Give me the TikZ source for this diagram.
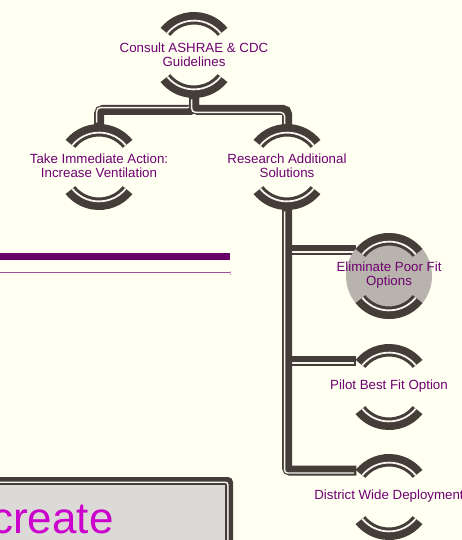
\documentclass[tikz,border=0pt]{standalone}
\usepackage{fontspec}
\setmainfont{Liberation Sans}
\usetikzlibrary{calc}
\definecolor{bg}{HTML}{FFFFF2}
\definecolor{ink}{HTML}{453E38}
\definecolor{gapc}{HTML}{F6F5EE}
\definecolor{txt}{HTML}{6E0070}
\definecolor{barc}{HTML}{660066}
\definecolor{thinbar}{HTML}{A050A0}
\definecolor{discfill}{HTML}{B8B4AD}
\definecolor{boxfill}{HTML}{DCDAD7}
\definecolor{bigtext}{HTML}{CC00CC}

% top and bottom caps of a hub: thick band, light gap, thin band
\newcommand\capring[1]{%
  \begin{scope}[shift={(#1.center)}]
    \foreach \sa/\sb in {219/321, 39/141}{
      \fill[ink] (\sa:43) arc[start angle=\sa,end angle=\sb,radius=43]
        -- (\sb:30.5) arc[start angle=\sb,end angle=\sa,radius=30.5] -- cycle;
      \fill[gapc] (\sa:35.3) arc[start angle=\sa,end angle=\sb,radius=35.3]
        -- (\sb:33.5) arc[start angle=\sb,end angle=\sa,radius=33.5] -- cycle;
    }
  \end{scope}}

\begin{document}
\begin{tikzpicture}[x=1pt,y=-1pt,
  hub/.style={circle,minimum size=84pt,inner sep=0pt,outer sep=0pt},
  lbl/.style={text=txt,font=\fontsize{13.3}{14}\selectfont,align=center,inner sep=0pt},
  wire/.style={ink,line width=10pt,rounded corners=4pt},
  wirelight/.style={gapc,line width=1.4pt,rounded corners=4pt}]
\useasboundingbox (0,0) rectangle (462,540);
\clip (0,0) rectangle (462,540);
\fill[bg] (0,0) rectangle (462,540);

% hubs
\node[hub] (consult)   at (194,55)  {};
\node[hub] (immediate) at (99,167)  {};
\node[hub] (research)  at (287,167) {};
\node[hub] (eliminate) at (389,276) {};
\node[hub] (pilot)     at (389,387) {};
\node[hub] (district)  at (389,497) {};

% connectors from the top hub
\coordinate (fork) at ($(consult.south)+(0,13)$);
\draw[wire] (consult.south) -- (fork) -| (immediate.north);
\draw[wirelight,transform canvas={xshift=-2.4pt,yshift=2.4pt}]
  (consult.south) -- (fork) -| (immediate.north);
\draw[wire] (consult.south) -- (fork) -| (research.north);
\draw[wirelight,transform canvas={xshift=-2.4pt,yshift=-2.4pt}]
  (consult.south) -- (fork) -| (research.north);

% connectors down the right column
\foreach \n in {eliminate,pilot}{
  \draw[wire,sharp corners] (research.south) |- (\n.141);
  \draw[wirelight,sharp corners,transform canvas={xshift=-2.4pt,yshift=-2.4pt}]
    (research.south) |- (\n.141);
}
\draw[wire,rounded corners=3pt] (research.south) |- (district.141);
\draw[wirelight,rounded corners=3pt,transform canvas={xshift=-2.4pt,yshift=-2.4pt}]
  (research.south) |- (district.141);

% highlighted hub
\fill[discfill] (eliminate.center) circle[radius=43];

% caps
\foreach \n in {consult,immediate,research,eliminate,pilot,district}{\capring{\n}}

% labels
\node[lbl] (consult-t)   at ([yshift=0.5pt]consult.center)   {Consult ASHRAE \& CDC\\Guidelines};
\node[lbl] (immediate-t) at ([yshift=1.5pt]immediate.center) {Take Immediate Action:\\Increase Ventilation};
\node[lbl] (research-t)  at ([yshift=1.5pt]research.center)  {Research Additional\\Solutions};
\node[lbl] (eliminate-t) at ([yshift=0.5pt]eliminate.center) {Eliminate Poor Fit\\Options};
\node[lbl] (pilot-t)     at ([yshift=0.5pt]pilot.center)     {Pilot Best Fit Option};
\node[lbl] (district-t)  at ([yshift=0.5pt]district.center)  {District Wide Deployment};

% purple rule
\fill[barc] (0,253) rectangle (230,260);
\draw[thinbar,line width=1pt] (0,272.5) -- (230,272.5);
\draw[thinbar!50,line width=1pt] (230.5,271) -- (230.5,275);

% framed panel at the bottom
\fill[ink,rounded corners=5pt] (-10,477) rectangle (233,560);
\fill[gapc,rounded corners=3pt] (-10,481.5) rectangle (228.5,560);
\fill[ink,rounded corners=2pt] (-10,483) rectangle (227,560);
\fill[boxfill] (-10,485) rectangle (225,560);
\node[anchor=base west,text=bigtext,font=\fontsize{44}{44}\selectfont,inner sep=0pt]
  (panel-t) at (-9,533) {create};
\end{tikzpicture}
\end{document}
